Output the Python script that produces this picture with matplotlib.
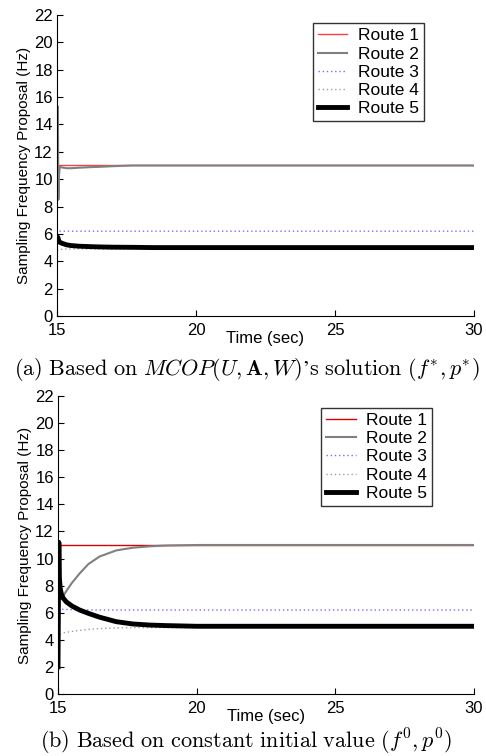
import numpy as np
import matplotlib
matplotlib.use("Agg")
import matplotlib.pyplot as plt

plt.rcParams['font.family'] = ['Liberation Sans', 'DejaVu Sans']
plt.rcParams['mathtext.fontset'] = 'cm'

# ---- data (a) ----
t_a = [15.0, 15.03, 15.05, 15.07, 15.1, 15.2, 15.35, 15.5, 15.8, 16.2, 16.5, 17.0, 17.7, 18.5, 20.0, 25.0, 30.0]
a_route1 = [11.0, 11.0, 11.0, 11.0, 11.0, 11.0, 11.0, 11.0, 11.0, 11.0, 11.0, 11.0, 11.0, 11.0, 11.0, 11.0, 11.0]
a_route2 = [11.0, 15.3, 8.5, 10.2, 10.9, 10.85, 10.8, 10.8, 10.84, 10.88, 10.9, 10.95, 11.0, 11.0, 11.0, 11.0, 11.0]
a_route3 = [6.0, 6.1, 6.2, 6.2, 6.2, 6.2, 6.2, 6.2, 6.2, 6.2, 6.2, 6.2, 6.2, 6.2, 6.2, 6.2, 6.2]
a_route4 = [4.8, 4.8, 4.82, 4.85, 4.87, 4.88, 4.9, 4.9, 4.9, 4.9, 4.9, 4.9, 4.9, 4.9, 4.9, 4.9, 4.9]
a_route5 = [5.8, 5.75, 5.6, 5.45, 5.38, 5.3, 5.2, 5.15, 5.1, 5.07, 5.05, 5.03, 5.02, 5.0, 5.0, 5.0, 5.0]

# ---- data (b) ----
t_b = [15.0, 15.03, 15.05, 15.08, 15.12, 15.18, 15.3, 15.5, 15.78, 16.1, 16.5, 17.1, 17.7, 18.3, 18.9, 20.0, 25.0, 30.0]
b_route1 = [11.0, 11.0, 11.0, 11.0, 11.0, 11.0, 11.0, 11.0, 11.0, 11.0, 11.0, 11.0, 11.0, 11.0, 11.0, 11.0, 11.0, 11.0]
b_route2 = [11.0, 9.0, 7.6, 7.1, 7.0, 7.2, 7.6, 8.2, 8.9, 9.6, 10.15, 10.6, 10.8, 10.9, 10.96, 11.0, 11.0, 11.0]
b_route3 = [6.3, 6.3, 6.28, 6.27, 6.26, 6.25, 6.24, 6.23, 6.22, 6.21, 6.2, 6.2, 6.2, 6.2, 6.2, 6.2, 6.2, 6.2]
b_route4 = [1.0, 3.5, 4.2, 4.4, 4.45, 4.5, 4.55, 4.62, 4.7, 4.77, 4.83, 4.88, 4.9, 4.9, 4.9, 4.9, 4.9, 4.9]
b_route5 = [2.0, 11.2, 8.6, 7.8, 7.4, 7.1, 6.8, 6.5, 6.2, 5.95, 5.67, 5.34, 5.17, 5.09, 5.05, 5.0, 5.0, 5.0]

labels = ["Route 1", "Route 2", "Route 3", "Route 4", "Route 5"]
yticks = [0, 2, 4, 6, 8, 10, 12, 14, 16, 18, 20, 22]
xticks = [15, 20, 25, 30]

fig = plt.figure(figsize=(4.86, 7.56), dpi=100)
W, H = 486, 756

def make_ax(rect_px, t, series, red, caption, cap_y, leg_anchor):
    l, tp, r, b = rect_px
    ax = fig.add_axes([l / W, 1 - b / H, (r - l) / W, (b - tp) / H])
    styles = [
        dict(color=red, lw=1.0, ls='-'),
        dict(color='#808080', lw=1.5, ls='-'),
        dict(color='#7070ff', lw=1.0, ls=(0, (1, 2))),
        dict(color='#a0a0a0', lw=1.0, ls=(0, (1, 2))),
        dict(color='black', lw=3.5, ls='-'),
    ]
    for s, lab, st in zip(series, labels, styles):
        ax.plot(t, s, label=lab, **st)
    ax.set_xlim(15, 30)
    ax.set_ylim(0, 22)
    ax.set_xticks(xticks)
    ax.set_yticks(yticks)
    ax.spines['top'].set_visible(False)
    ax.spines['right'].set_visible(False)
    ax.tick_params(direction='in', length=4, labelsize=12)
    ax.tick_params(axis='x', pad=5)
    ax.tick_params(axis='y', pad=3)
    ax.set_xlabel("Time (sec)", fontsize=12, labelpad=-5)
    ax.set_ylabel("Sampling Frequency Proposal (Hz)", fontsize=11, labelpad=2)
    leg = ax.legend(loc='upper right', bbox_to_anchor=leg_anchor, fontsize=12.5,
                    frameon=True, fancybox=False, edgecolor='black',
                    handlelength=1.7, handletextpad=0.6, borderpad=0.3,
                    labelspacing=0.17, borderaxespad=0)
    leg.get_frame().set_linewidth(1.0)
    fig.text(0.5 * (8 + 485) / W, 1 - cap_y / H, caption, ha='center', va='center', fontsize=16)
    return ax

make_ax((57, 15, 474, 316), t_a, [a_route1, a_route2, a_route3, a_route4, a_route5], '#ff4040',
        "$\\mathrm{(a)\\ Based\\ on\\ }MCOP(U,\\mathbf{A},W)\\mathrm{\u2019s\\ solution\\ }(f^{*},p^{*})$",
        369, (0.88, 0.973))
make_ax((58, 396, 474, 694), t_b, [b_route1, b_route2, b_route3, b_route4, b_route5], '#dd0000',
        r"$\mathrm{(b)\ Based\ on\ constant\ initial\ value\ }(f^{0},p^{0})$", 742, (0.90, 0.96))

fig.savefig("out.png", dpi=100)
